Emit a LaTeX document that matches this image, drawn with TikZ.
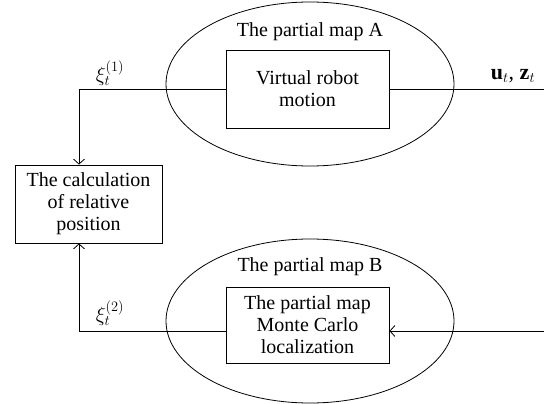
\documentclass[tikz,border=0pt]{standalone}
\usepackage{fontspec}
\setmainfont{Liberation Serif}
\usetikzlibrary{arrows.meta,shapes.geometric}
\begin{document}
\begin{tikzpicture}[x=1pt,y=-1pt,
  font=\fontsize{20}{22}\selectfont,
  line width=0.8pt,
  blk/.style={draw, rectangle, align=center, inner sep=0pt},
  zone/.style={draw, ellipse, inner sep=0pt, minimum width=288pt, minimum height=164pt},
  lbl/.style={font=\fontsize{22}{24}\selectfont},
  arr/.style={-{Straight Barb[length=5pt,width=11pt]}}]
\useasboundingbox (0,0) rectangle (544,404);
% ellipses
\node[zone] (eA) at (310,84) {};
\node[zone] (eB) at (310,321) {};
% boxes
\node[blk, minimum width=163pt, minimum height=78pt] (bA) at (307.5,89) {Virtual robot\\motion};
\node[blk, minimum width=163pt, minimum height=76pt] (bB) at (307.5,325) {The partial map\\Monte Carlo\\localization};
\node[blk, minimum width=147pt, minimum height=78pt] (calc) at (88.5,204) {The calculation\\of relative\\position};
% titles
\node (tA) at (310,32) {The partial map A};
\node (tB) at (310,267) {The partial map B};
% coordinates
\coordinate (rA) at (544,89);
\coordinate (rB) at (544,331);
\coordinate (kA) at (79,89);
\coordinate (kB) at (79,331);
% connectors
\draw (bA.east) -- (rA);
\draw[arr] (bA.west) -- (kA) -- (kA |- calc.north);
\draw[arr] (rB) -- (rB -| bB.east);
\draw[arr] (kB -| bB.west) -- (kB) -- (kB |- calc.south);
% labels
\node[lbl] (x1) at (110,73) {$\xi_t^{(1)}$};
\node[lbl] (x2) at (110,313) {$\xi_t^{(2)}$};
\node[lbl] (uz) at (513,76) {$\mathbf{u}_t$, $\mathbf{z}_t$};
\end{tikzpicture}
\end{document}
